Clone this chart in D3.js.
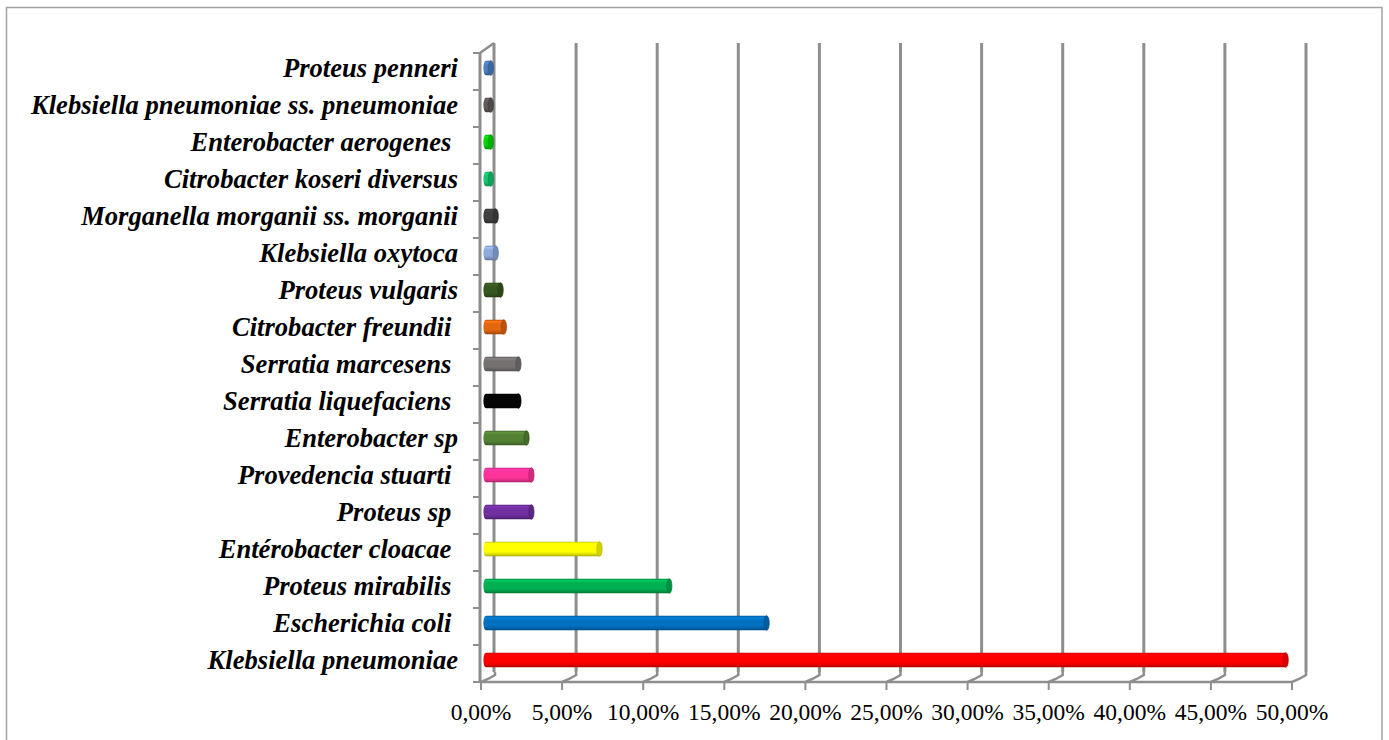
<!DOCTYPE html>
<html>
<head>
<meta charset="utf-8">
<script src="https://cdn.jsdelivr.net/npm/d3@7"></script>
<style>
  body { margin: 0; background: #ffffff; }
  svg { display: block; }
  .cat-label { font-family: "Liberation Serif", "Times New Roman", serif; font-weight: bold; font-style: italic; font-size: 26.6px; fill: #000; white-space: pre; }
  .tick-label { font-family: "Liberation Serif", "Times New Roman", serif; font-size: 23.5px; fill: #000; }
</style>
</head>
<body>
<svg id="chart" width="1389" height="740"></svg>
<script>
// Species, listed from the top of the chart to the bottom
const categories = [
  "Proteus penneri",
  "Klebsiella pneumoniae ss. pneumoniae",
  "Enterobacter aerogenes ",
  "Citrobacter koseri diversus",
  "Morganella morganii ss. morganii",
  "Klebsiella oxytoca",
  "Proteus vulgaris",
  "Citrobacter freundii ",
  "Serratia marcesens ",
  "Serratia liquefaciens ",
  "Enterobacter sp",
  "Provedencia stuarti ",
  "Proteus sp ",
  "Entérobacter cloacae ",
  "Proteus mirabilis ",
  "Escherichia coli ",
  "Klebsiella pneumoniae"
];

// Share of isolates (%) for each species, same order
const values = [0.3, 0.3, 0.3, 0.3, 0.6, 0.6, 0.9, 1.1, 2.0, 2.0, 2.5, 2.8, 2.8, 7.0, 11.3, 17.3, 49.3];

// Fill colour of each cylinder, same order
const colors = [
  "#4a7fc1", "#5f5a5a", "#00d400", "#14c46e", "#3f3f3f", "#8eaadc", "#36561f", "#e1660e",
  "#767171", "#050505", "#548235", "#ff3399", "#7030a0", "#ffff00", "#00b050", "#0070c0", "#ff0000"
];

// Value axis ticks (%)
const xTicks = [0, 5, 10, 15, 20, 25, 30, 35, 40, 45, 50];
const tickLabels = ["0,00%", "5,00%", "10,00%", "15,00%", "20,00%", "25,00%", "30,00%", "35,00%", "40,00%", "45,00%", "50,00%"];

const svg = d3.select("#chart");

// Front plane of the 3D plot box and its depth offset
const plotLeft = 481, plotRight = 1292, plotTop = 53, plotBottom = 682;
const DX = 14, DY = -10;

const x = d3.scaleLinear().domain([0, 50]).range([plotLeft, plotRight]);
const y = d3.scaleBand().domain(categories).range([plotTop, plotBottom]).paddingInner(0).paddingOuter(0);

const gridColor = "#8e8e8e";

// Outer frame
svg.append("rect")
  .attr("x", 6.5).attr("y", 7.5).attr("width", 1375.5).attr("height", 760)
  .attr("fill", "none").attr("stroke", "#a3a3a3").attr("stroke-width", 1.5);

const defs = svg.append("defs");

// Back wall gridlines
svg.append("g").selectAll("line").data(xTicks.slice(1)).join("line")
  .attr("x1", d => x(d) + DX).attr("x2", d => x(d) + DX)
  .attr("y1", plotTop + DY).attr("y2", plotBottom + DY)
  .attr("stroke", gridColor).attr("stroke-width", 3);

// Floor: front edge and the angled steps up to each gridline
const floor = svg.append("g").attr("fill", "none").attr("stroke", gridColor).attr("stroke-width", 2.5);
floor.append("line").attr("x1", plotLeft).attr("x2", plotRight).attr("y1", plotBottom).attr("y2", plotBottom);
floor.selectAll("path.step").data(xTicks).join("path").attr("class", "step")
  .attr("d", d => `M${x(d)},${plotBottom} L${x(d) + DX * 0.5},${plotBottom - 3} L${x(d) + DX},${plotBottom + DY + 3} L${x(d) + DX},${plotBottom + DY}`);

// Side wall
const wall = svg.append("g").attr("fill", "none").attr("stroke", gridColor).attr("stroke-width", 3);
wall.append("line").attr("x1", plotLeft - 1).attr("x2", plotLeft - 1).attr("y1", plotTop).attr("y2", plotBottom);
wall.append("line").attr("x1", plotLeft + DX - 1).attr("x2", plotLeft + DX - 1).attr("y1", plotTop + DY).attr("y2", plotBottom + DY);
wall.append("line").attr("x1", plotLeft - 1).attr("x2", plotLeft + DX - 1).attr("y1", plotTop).attr("y2", plotTop + DY)
  .attr("stroke-width", 2.5);

// Category ticks on the side wall
const catBounds = categories.map(c => y(c)).concat([plotBottom]);
svg.append("g").selectAll("line").data(catBounds).join("line")
  .attr("x1", plotLeft - 8).attr("x2", plotLeft - 1)
  .attr("y1", d => d).attr("y2", d => d)
  .attr("stroke", gridColor).attr("stroke-width", 2);

// Value ticks below the floor
svg.append("g").selectAll("line").data(xTicks).join("line")
  .attr("x1", d => x(d)).attr("x2", d => x(d))
  .attr("y1", plotBottom).attr("y2", plotBottom + 8)
  .attr("stroke", gridColor).attr("stroke-width", 2);

svg.append("g").selectAll("text").data(xTicks).join("text")
  .attr("class", "tick-label")
  .attr("x", d => x(d)).attr("y", 720)
  .attr("text-anchor", "middle")
  .text((d, i) => tickLabels[i]);

// Category labels
svg.append("g").selectAll("text").data(categories).join("text")
  .attr("class", "cat-label")
  .attr("x", 458)
  .attr("y", d => y(d) + y.bandwidth() / 2 + 5.5)
  .attr("text-anchor", "end")
  .text(d => d);

// Cylinders
const barH = 14.5, capRx = 2.6, barShift = 5;
categories.forEach((c, i) => {
  const col = d3.color(colors[i]);
  const id = "grad" + i;
  const g = defs.append("linearGradient").attr("id", id)
    .attr("x1", 0).attr("x2", 0).attr("y1", 0).attr("y2", 1);
  const stops = [
    [0, col.darker(0.7)],
    [0.12, col.brighter(0.35)],
    [0.3, col],
    [0.7, col],
    [0.88, col.darker(0.5)],
    [1, col.darker(1.2)]
  ];
  stops.forEach(([o, cc]) => g.append("stop").attr("offset", o).attr("stop-color", cc.formatHex()));

  const cy = y(c) + y.bandwidth() / 2 - 3.5;
  const x0 = x(0) + barShift;
  const x1 = x(values[i]) + barShift;
  const r = barH / 2;
  const bar = svg.append("g");
  // body with a rounded left end
  bar.append("path")
    .attr("d", `M${x1},${cy - r} L${x0},${cy - r} A${capRx},${r} 0 0 0 ${x0},${cy + r} L${x1},${cy + r} Z`)
    .attr("fill", `url(#${id})`);
  // end cap
  bar.append("ellipse")
    .attr("cx", x1).attr("cy", cy).attr("rx", capRx).attr("ry", r)
    .attr("fill", col.darker(0.55).formatHex())
    .attr("stroke", col.darker(0.9).formatHex()).attr("stroke-width", 0.8);
});
</script>
</body>
</html>
